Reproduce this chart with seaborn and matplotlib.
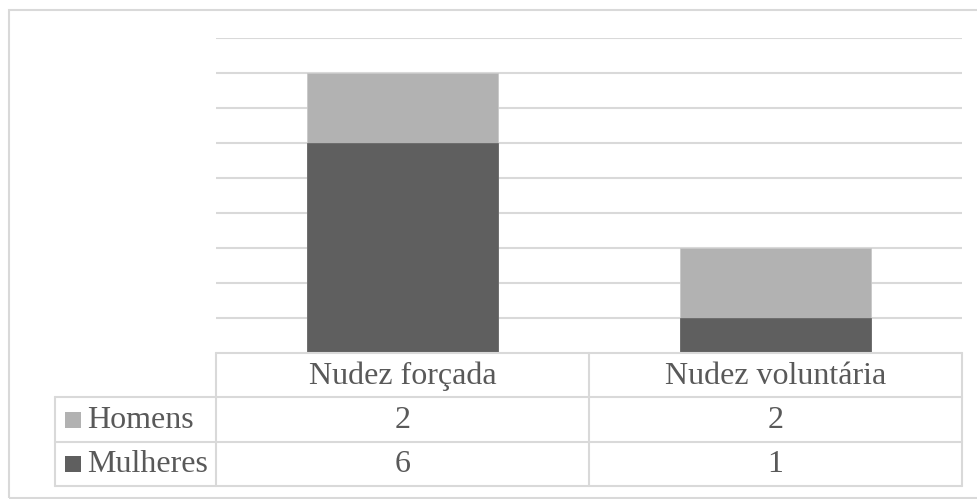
import numpy as np
import seaborn as sns
import matplotlib.pyplot as plt
import pandas as pd
from matplotlib.lines import Line2D
from matplotlib.patches import Rectangle

categories = ['Nudez forçada', 'Nudez voluntária']
series = ['Homens', 'Mulheres']
homens = [2, 2]
mulheres = [6, 1]

colors = {'Homens': '#b2b2b2', 'Mulheres': '#5f5f5f'}
grid_c = '#d9d9d9'
text_c = '#595959'

sns.set_style('white')
plt.rcParams['font.family'] = ['Liberation Serif', 'DejaVu Serif']

W, H = 978, 499
fig = plt.figure(figsize=(W / 100, H / 100), dpi=100)

def fx(px):
    return px / W

def fy(py):
    return 1 - py / H

# plot area
ax = fig.add_axes([fx(216), fy(353), fx(962) - fx(216), fy(38) - fy(353)])
df = pd.DataFrame({'cat': categories, 'Homens': homens, 'Mulheres': mulheres})
df['total'] = df['Homens'] + df['Mulheres']

sns.barplot(data=df, x='cat', y='total', color=colors['Homens'], saturation=1,
            width=0.51, ax=ax, edgecolor='#c8c8c8', linewidth=0.6, zorder=3)
sns.barplot(data=df, x='cat', y='Mulheres', color=colors['Mulheres'], saturation=1,
            width=0.51, ax=ax, edgecolor='#6a6a6a', linewidth=0.6, zorder=3)

ax.set_ylim(0, 9)
ax.set_xlim(-0.5, 1.5)
ax.set_yticks(np.arange(1, 10))
ax.yaxis.grid(True, color=grid_c, linewidth=1.5, zorder=0)
ax.set_xticks([])
ax.set_yticklabels([])
ax.tick_params(left=False, bottom=False)
ax.set_xlabel('')
ax.set_ylabel('')
for s in ax.spines.values():
    s.set_visible(False)

# outer chart border
fig.add_artist(Rectangle((fx(9), fy(498)), fx(990) - fx(9), fy(10) - fy(498),
                         transform=fig.transFigure, fill=False,
                         edgecolor=grid_c, linewidth=1.5))

# data table
col_x = [216, 589, 962]
row_y = [353, 397, 442, 486]
lw = 1.5

def hline(y, x0, x1):
    fig.add_artist(Line2D([fx(x0), fx(x1)], [fy(y), fy(y)], color=grid_c, lw=lw))

def vline(x, y0, y1):
    fig.add_artist(Line2D([fx(x), fx(x)], [fy(y0), fy(y1)], color=grid_c, lw=lw))

hline(row_y[0], col_x[0], col_x[-1])
for y in row_y[1:]:
    hline(y, 55, col_x[-1])
for x in col_x:
    vline(x, row_y[0], row_y[-1])
vline(55, row_y[1], row_y[-1])

fs = 23
for i, cat in enumerate(categories):
    cx = (col_x[i] + col_x[i + 1]) / 2
    fig.text(fx(cx), fy((row_y[0] + row_y[1]) / 2 + 1), cat, ha='center', va='center',
             fontsize=fs, color=text_c)

table_vals = [homens, mulheres]
for r, name in enumerate(series):
    cy = (row_y[r + 1] + row_y[r + 2]) / 2
    fig.add_artist(Rectangle((fx(65), fy(cy + 8)), fx(16), fy(0) - fy(16),
                             transform=fig.transFigure, facecolor=colors[name],
                             edgecolor='none'))
    fig.text(fx(87), fy(cy + 1), name, ha='left', va='center', fontsize=fs, color=text_c)
    for i in range(len(categories)):
        cx = (col_x[i] + col_x[i + 1]) / 2
        fig.text(fx(cx), fy(cy + 1), str(table_vals[r][i]), ha='center', va='center',
                 fontsize=fs, color=text_c)

fig.savefig('out.png', dpi=100)
